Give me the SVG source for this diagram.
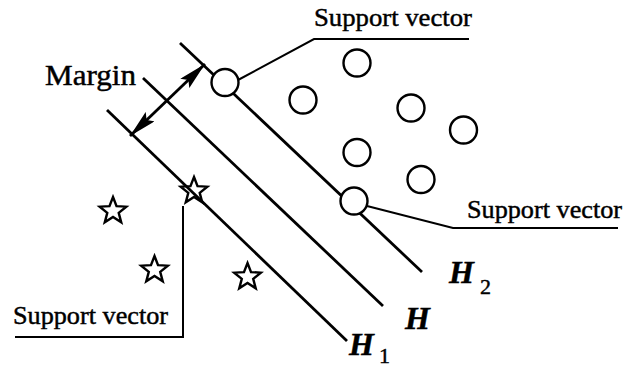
<svg xmlns="http://www.w3.org/2000/svg" width="623" height="367" viewBox="0 0 623 367">
<style>
.hl{stroke:#000;stroke-width:2.8;fill:none;stroke-linecap:butt}
.ld{stroke:#000;stroke-width:2;fill:none}
.pt{stroke:#000;stroke-width:2.4;fill:#fff}
.st{stroke:#000;stroke-width:2.4;fill:none;stroke-linejoin:miter}
text{font-family:'Liberation Serif','DejaVu Serif',serif;fill:#000;stroke:#000;stroke-width:0.45}
.sv{font-size:26px}
.hh{font-style:italic;font-weight:bold;font-size:32px}
.sub{font-size:22px}
</style>
<defs>
<marker id="ah" viewBox="0 0 28 13" refX="28" refY="6.5" markerWidth="28" markerHeight="13" markerUnits="userSpaceOnUse" orient="auto-start-reverse">
<path d="M0,0 L28,6.5 L0,13 L5,6.5 z" fill="#000"/>
</marker>
<path id="star" d="M0,-14 L3.53,-4.85 L13.31,-4.33 L5.71,1.85 L8.23,11.33 L0,6 L-8.23,11.33 L-5.71,1.85 L-13.31,-4.33 L-3.53,-4.85 Z"/>
</defs>
<rect width="623" height="367" fill="#fff"/>
<g id="connectors">
<line id="H2line" class="hl" x1="180" y1="43" x2="422" y2="272"/>
<line id="Hline" class="hl" x1="143" y1="78" x2="383" y2="306"/>
<line id="H1line" class="hl" x1="107" y1="110" x2="347" y2="341"/>
<line id="margin-arrow" class="hl" x1="205" y1="64" x2="130" y2="136" marker-start="url(#ah)" marker-end="url(#ah)"/>
<polyline class="ld" points="238,80 314,39 469,39"/>
<polyline class="ld" points="367,206 453,228 618,228"/>
<polyline class="ld" points="183,206 183,337 15,337"/>
</g>
<g id="circles">
<circle class="pt" cx="225" cy="82.5" r="13.5"/>
<circle class="pt" cx="357" cy="63" r="13.5"/>
<circle class="pt" cx="303" cy="100" r="13.5"/>
<circle class="pt" cx="411" cy="108" r="13.5"/>
<circle class="pt" cx="463.5" cy="130" r="13.5"/>
<circle class="pt" cx="357" cy="152.5" r="13.5"/>
<circle class="pt" cx="421" cy="179.5" r="13.5"/>
<circle class="pt" cx="354" cy="201" r="13.5"/>
</g>
<g id="stars">
<use href="#star" class="st" x="194" y="191"/>
<use href="#star" class="st" x="113" y="211"/>
<use href="#star" class="st" x="154.5" y="270"/>
<use href="#star" class="st" x="247.5" y="277"/>
</g>
<g id="label-margin"><text x="45" y="85" font-size="29" textLength="91" lengthAdjust="spacingAndGlyphs" stroke-width="0.8">Margin</text></g>
<g id="label-sv-top"><text class="sv" x="314" y="26" textLength="158" lengthAdjust="spacingAndGlyphs">Support vector</text></g>
<g id="label-sv-right"><text class="sv" x="467" y="218" textLength="155" lengthAdjust="spacingAndGlyphs">Support vector</text></g>
<g id="label-sv-left"><text class="sv" x="13" y="324" textLength="155" lengthAdjust="spacingAndGlyphs">Support vector</text></g>
<g id="label-H2"><text class="hh" x="449" y="283">H</text><text class="sub" x="480" y="294">2</text></g>
<g id="label-H"><text class="hh" x="405" y="329">H</text></g>
<g id="label-H1"><text class="hh" x="349" y="355">H</text><text class="sub" x="379" y="363">1</text></g>
</svg>
